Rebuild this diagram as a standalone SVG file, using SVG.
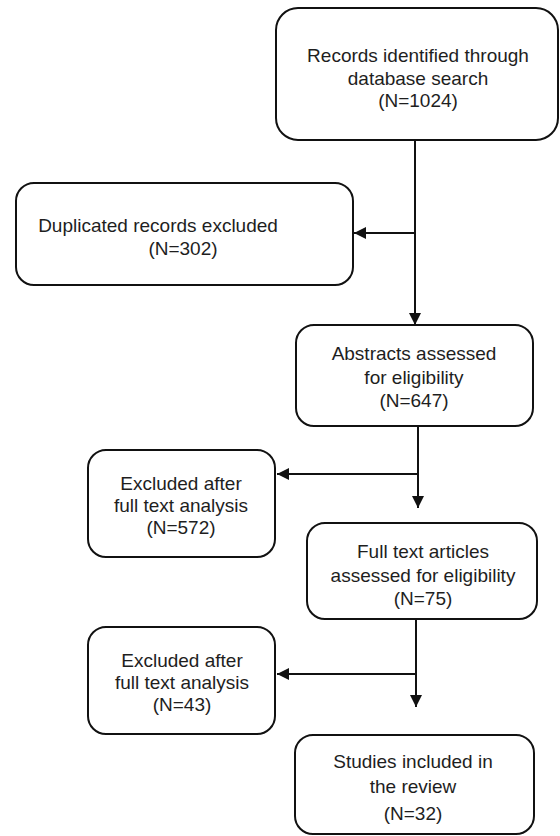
<svg xmlns="http://www.w3.org/2000/svg" width="560" height="836" viewBox="0 0 560 836">
<style>
.box{fill:#fff;stroke:#111;stroke-width:2}
.t{font-family:"Liberation Sans",Arial,sans-serif;font-size:19px;fill:#1e1e1e;text-anchor:middle}
.c{stroke:#111;stroke-width:2;fill:none}
</style>
<defs>
<marker id="ah" markerUnits="userSpaceOnUse" markerWidth="12" markerHeight="12" viewBox="0 0 12 12" refX="12" refY="6" orient="auto">
<path d="M0,0 L12,6 L0,12 z" fill="#111"/>
</marker>
</defs>
<rect width="560" height="836" fill="#fff"/>
<g id="connectors">
<line class="c" x1="415" y1="140" x2="415" y2="325" marker-end="url(#ah)"/>
<line class="c" x1="415" y1="233" x2="354" y2="233" marker-end="url(#ah)"/>
<line class="c" x1="418" y1="426" x2="418" y2="508" marker-end="url(#ah)"/>
<line class="c" x1="418" y1="474" x2="277" y2="474" marker-end="url(#ah)"/>
<line class="c" x1="416" y1="619" x2="416" y2="707" marker-end="url(#ah)"/>
<line class="c" x1="416" y1="674" x2="277" y2="674" marker-end="url(#ah)"/>
</g>
<g id="records">
<rect class="box" x="276" y="8" width="282" height="132" rx="22"/>
<text class="t" x="418" y="62">Records identified through</text>
<text class="t" x="418" y="85">database search</text>
<text class="t" x="418" y="107">(N=1024)</text>
</g>
<g id="duplicates">
<rect class="box" x="16" y="183" width="337" height="102" rx="18"/>
<text class="t" x="158" y="232">Duplicated records excluded</text>
<text class="t" x="183" y="255">(N=302)</text>
</g>
<g id="abstracts">
<rect class="box" x="296" y="325" width="237" height="101" rx="18"/>
<text class="t" x="414" y="360">Abstracts assessed</text>
<text class="t" x="414" y="384">for eligibility</text>
<text class="t" x="414" y="407">(N=647)</text>
</g>
<g id="excluded1">
<rect class="box" x="88" y="450" width="187" height="107" rx="18"/>
<text class="t" x="181" y="490">Excluded after</text>
<text class="t" x="181" y="512">full text analysis</text>
<text class="t" x="181" y="534">(N=572)</text>
</g>
<g id="fulltext">
<rect class="box" x="307" y="523" width="230" height="96" rx="18"/>
<text class="t" x="423" y="558">Full text articles</text>
<text class="t" x="423" y="582">assessed for eligibility</text>
<text class="t" x="423" y="605">(N=75)</text>
</g>
<g id="excluded2">
<rect class="box" x="88" y="627" width="187" height="107" rx="18"/>
<text class="t" x="182" y="667">Excluded after</text>
<text class="t" x="182" y="689">full text analysis</text>
<text class="t" x="182" y="711">(N=43)</text>
</g>
<g id="included">
<rect class="box" x="295" y="735" width="239" height="99" rx="18"/>
<text class="t" x="413" y="768">Studies included in</text>
<text class="t" x="413" y="793">the review</text>
<text class="t" x="413" y="820">(N=32)</text>
</g>
</svg>
